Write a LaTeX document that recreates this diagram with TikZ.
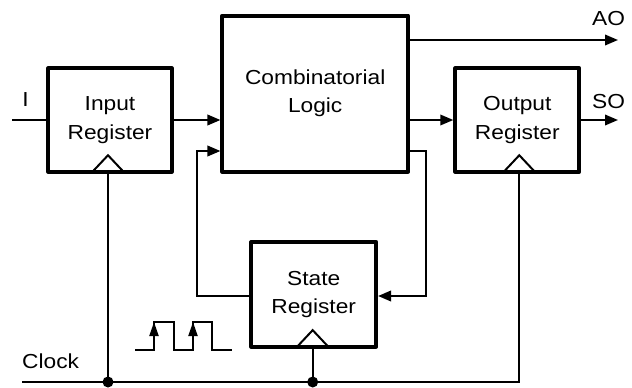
\documentclass[tikz,border=0pt]{standalone}
\usepackage{fontspec}
\setmainfont{Liberation Sans}[FakeStretch=1.12]
\usetikzlibrary{arrows.meta,calc}
\begin{document}
\begin{tikzpicture}[x=1pt,y=-1pt,
  blk/.style={draw,line width=4pt,line join=round,align=center,inner sep=0pt,
    font=\fontsize{20.3}{28.3}\selectfont},
  wire/.style={line width=2pt,line join=miter},
  arr/.style={wire,-{Triangle[length=13pt,width=10.5pt]}},
  tick/.style={wire,-{Triangle[length=14pt,width=9pt]}},
  lbl/.style={font=\fontsize{20.3}{24}\selectfont,inner sep=0pt},
  dot/.style={fill=black}]
\useasboundingbox (0,0) rectangle (632,388);
% blocks
\node[blk,minimum width=123.5pt,minimum height=103.5pt] (inreg) at (110,120) {Input\\Register};
\node[blk,minimum width=185.5pt,minimum height=156pt] (comb) at (315.2,93.6) {Combinatorial\\Logic};
\node[blk,minimum width=124pt,minimum height=103.5pt] (outreg) at (517.3,120) {Output\\Register};
\node[blk,minimum width=124.7pt,minimum height=104.7pt] (state) at (313.7,294.3) {State\\Register};
% labels
\node[lbl,anchor=base] (lI) at (25.5,106) {I};
\node[lbl,anchor=base west] (lAO) at (592,25) {AO};
\node[lbl,anchor=base west] (lSO) at (592,108) {SO};
\node[lbl,anchor=base west] (lclk) at (22,368) {Clock};
% coordinates
\coordinate (iin) at (12,120);
\coordinate (ao) at (618,40);
\coordinate (so) at (618,120);
\coordinate (sy) at (0,296);
\coordinate (fbl) at (197,151);
\coordinate (fbr) at (426,151);
\coordinate (clkL) at (22,382);
\coordinate (j1) at (108,382);
\coordinate (j2) at (312.7,382);
\coordinate (ce) at (519.3,382);
% data wires
\draw[wire] (iin) -- (inreg.west);
\draw[arr] (inreg.east) -- (comb.west |- inreg.east);
\draw[arr] (comb.east |- outreg.west) -- (outreg.west);
\draw[arr] (comb.east |- ao) -- (ao);
\draw[arr] (outreg.east) -- (so);
\draw[arr] (state.west |- sy) -| (fbl) -- (comb.west |- fbl);
\draw[arr] (comb.east |- fbr) -- (fbr) |- (state.east |- sy);
% clock wires
\draw[wire] (clkL) -- (ce) -- (ce |- outreg.south);
\draw[wire] (j1) -- (j1 |- inreg.south);
\draw[wire] (j2) -- (j2 |- state.south);
\fill[dot] (j1) circle[radius=5.5];
\fill[dot] (j2) circle[radius=5.5];
% clock triangles
\foreach \j/\b in {j1/inreg, j2/state, ce/outreg}{
  \draw[wire] ($(\j |- \b.south)+(-15.5,-2)$) -- ($(\j |- \b.south)+(0,-18.5)$) -- ($(\j |- \b.south)+(15.5,-2)$);
}
% clock waveform
\draw[wire] (135,350) -- (154,350) -- (154,322) -- (174,322) -- (174,350) -- (193,350) -- (193,322) -- (212,322) -- (212,350) -- (232,350);
\draw[tick] (154,348) -- (154,322);
\draw[tick] (193,348) -- (193,322);
\end{tikzpicture}
\end{document}
